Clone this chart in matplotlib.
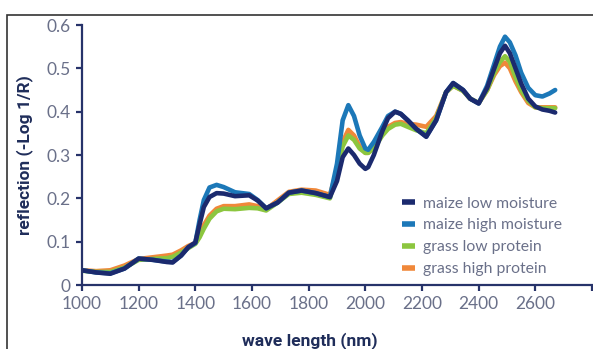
import matplotlib
matplotlib.use("Agg")
import matplotlib.pyplot as plt
from matplotlib.patches import Rectangle

# wellenlaengen (nm), gemeinsames raster fuer alle kurven
wl = [1000, 1050, 1100, 1150, 1200, 1250, 1300, 1320, 1350, 1375, 1400, 1415,
      1430, 1450, 1475, 1500, 1540, 1590, 1620, 1650, 1690, 1730, 1775, 1825,
      1875, 1900, 1920, 1940, 1960, 1980, 2000, 2010, 2030, 2060, 2080, 2105,
      2125, 2150, 2180, 2215, 2250, 2285, 2310, 2345, 2370, 2400, 2430, 2455,
      2475, 2493, 2510, 2530, 2550, 2575, 2600, 2625, 2650, 2670]

maize_low = [.034, .029, .026, .038, .061, .058, .053, .052, .068, .087, .098, .14,
             .18, .203, .212, .211, .205, .207, .195, .177, .19, .213, .218, .212,
             .203, .24, .295, .315, .3, .28, .268, .272, .3, .355, .385, .40,
             .395, .38, .36, .342, .38, .445, .466, .45, .43, .419, .455, .5,
             .535, .552, .535, .5, .465, .43, .412, .405, .402, .398]

maize_high = [.034, .029, .027, .038, .061, .058, .054, .053, .068, .087, .097, .15,
              .196, .225, .231, .226, .214, .21, .196, .177, .19, .213, .218, .212,
              .203, .28, .38, .415, .39, .345, .315, .312, .33, .365, .39, .40,
              .395, .38, .36, .343, .38, .445, .466, .45, .43, .419, .46, .51,
              .55, .573, .56, .53, .49, .455, .438, .435, .442, .45]

grass_low = [.033, .03, .03, .04, .058, .06, .062, .065, .075, .085, .095, .11,
             .13, .153, .17, .176, .175, .178, .177, .172, .19, .21, .213, .208,
             .2, .26, .32, .345, .335, .315, .305, .305, .315, .345, .36, .37,
             .372, .365, .357, .35, .385, .445, .46, .448, .43, .42, .45, .49,
             .515, .528, .515, .48, .45, .425, .41, .408, .408, .408]

grass_high = [.034, .032, .034, .045, .06, .064, .068, .07, .08, .09, .097, .115,
              .138, .16, .176, .182, .182, .186, .182, .175, .195, .215, .22, .218,
              .208, .265, .33, .358, .345, .32, .305, .305, .318, .35, .365, .374,
              .376, .372, .37, .365, .39, .445, .46, .448, .43, .42, .45, .485,
              .505, .513, .5, .47, .445, .42, .41, .41, .41, .41]

labels = ["maize low moisture", "maize high moisture",
          "grass low protein", "grass high protein"]
xticks = [1000, 1200, 1400, 1600, 1800, 2000, 2200, 2400, 2600, 2800]
yticks = [0, 0.1, 0.2, 0.3, 0.4, 0.5, 0.6]

navy = "#1b2a6e"
blue = "#1c78b8"
green = "#8cc63f"
orange = "#f0883a"
axcol = "#27336a"
txtcol = "#6a7089"

fig = plt.figure(figsize=(5.93, 3.49), dpi=100)
ax = fig.add_axes([82 / 593, 1 - 285 / 349, 510 / 593, 260 / 349])

lw = 3.3
kw = dict(lw=lw, solid_capstyle="round", solid_joinstyle="round")
l4, = ax.plot(wl, grass_high, color=orange, **kw)
l3, = ax.plot(wl, grass_low, color=green, **kw)
l2, = ax.plot(wl, maize_high, color=blue, **kw)
l1, = ax.plot(wl, maize_low, color=navy, **kw)

ax.set_xlim(1000, 2800)
ax.set_ylim(0, 0.6)
ax.set_xticks(xticks)
ax.set_xticklabels([str(v) for v in xticks[:-1]] + [""])
ax.set_yticks(yticks)
ax.set_yticklabels(["0", "0.1", "0.2", "0.3", "0.4", "0.5", "0.6"])

for s in ["top", "right"]:
    ax.spines[s].set_visible(False)
for s in ["left", "bottom"]:
    ax.spines[s].set_color(axcol)
    ax.spines[s].set_linewidth(1.6)
ax.tick_params(direction="out", length=4, width=1.6, color=axcol,
               labelcolor=txtcol, labelsize=12.5, pad=4)
for t in ax.get_xticklabels() + ax.get_yticklabels():
    t.set_family(["Lato", "DejaVu Sans"])

lab_font = dict(family=["Roboto", "DejaVu Sans"], weight="bold",
                size=12.5, color="#1f2d5a")
ax.set_ylabel("reflection (-Log 1/R)", **lab_font)
ax.yaxis.set_label_coords(-0.096, 0.5)
ax.set_xlabel("wave length (nm)", **lab_font)
ax.xaxis.set_label_coords(0.447, -0.18)

leg = ax.legend([l1, l2, l3, l4], labels, loc="upper left",
                bbox_to_anchor=(0.612, 0.37), frameon=False, borderpad=0,
                handlelength=0.85, handletextpad=0.5, labelspacing=0.5,
                prop={"family": ["Lato", "DejaVu Sans"], "size": 11.3})
for t in leg.get_texts():
    t.set_color(txtcol)
for h in leg.get_lines():
    h.set_linewidth(4)
    h.set_solid_capstyle("butt")

# aeusserer rahmen (rechts/unten abgeschnitten)
fig.patches.append(Rectangle((7 / 593, -0.2), 1.2, 1.2 - 15 / 349,
                             transform=fig.transFigure, fill=False,
                             edgecolor="#333333", lw=1.2))

fig.savefig("out.png", dpi=100)
